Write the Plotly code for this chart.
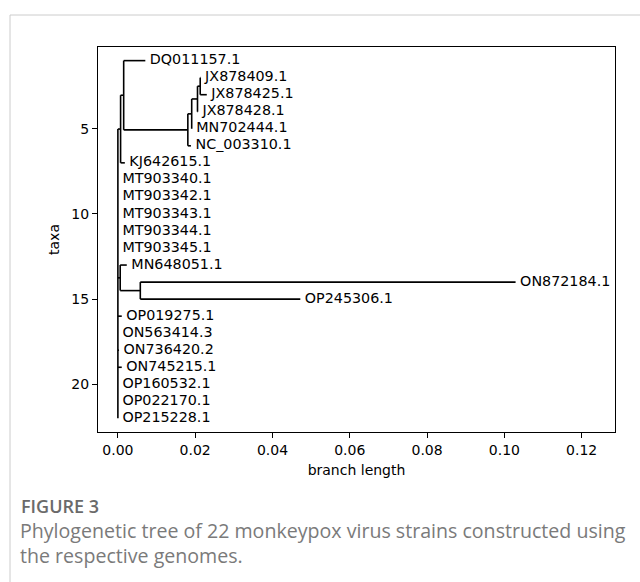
import plotly.graph_objects as go

# ---- data: tips in display order (top to bottom) ----
tips = ["DQ011157.1", "JX878409.1", "JX878425.1", "JX878428.1", "MN702444.1",
        "NC_003310.1", "KJ642615.1", "MT903340.1", "MT903342.1", "MT903343.1",
        "MT903344.1", "MT903345.1", "MN648051.1", "ON872184.1", "OP245306.1",
        "OP019275.1", "ON563414.3", "ON736420.2", "ON745215.1", "OP160532.1",
        "OP022170.1", "OP215228.1"]
tip_parent = ["A", "E", "E", "D", "C",
              "B", "F", "root", "root", "root",
              "root", "root", "I", "H", "H",
              "root", "root", "root", "root", "root",
              "root", "root"]
tip_length = [0.0056, 0.0001, 0.0017, 0.0001, 0.0000,
              0.0008, 0.0011, 0.0, 0.0, 0.0,
              0.0, 0.0, 0.0017, 0.0971, 0.0414,
              0.0010, 0.0, 0.0003, 0.0010, 0.0,
              0.0, 0.0]

internal = ["root", "F", "A", "B", "C", "D", "E", "I", "H"]
internal_parent = [None, "root", "F", "A", "B", "C", "D", "root", "I"]
internal_length = [0.0, 0.0007, 0.0008, 0.0166, 0.0010, 0.0015, 0.0007, 0.0006, 0.0052]

x_ticks = [0.00, 0.02, 0.04, 0.06, 0.08, 0.10, 0.12]
y_ticks = [5, 10, 15, 20]

# ---- build tree layout (depth = cumulative branch length, y = tip row) ----
parent = {}
length = {}
for n, p, l in zip(internal, internal_parent, internal_length):
    parent[n] = p
    length[n] = l
for n, p, l in zip(tips, tip_parent, tip_length):
    parent[n] = p
    length[n] = l

children = {n: [] for n in internal}
for n in internal[1:] + tips:
    children[parent[n]].append(n)

xpos = {}
def depth(n):
    if n in xpos:
        return xpos[n]
    p = parent[n]
    xpos[n] = length[n] + (depth(p) if p is not None else 0.0)
    return xpos[n]
for n in internal + tips:
    depth(n)

ypos = {t: i + 1 for i, t in enumerate(tips)}
def ycoord(n):
    if n in ypos:
        return ypos[n]
    ys = [ycoord(c) for c in children[n]]
    ypos[n] = (min(ys) + max(ys)) / 2
    return ypos[n]
ycoord("root")

lx, ly = [], []
for n in internal + tips:
    p = parent[n]
    px = xpos[p] if p is not None else 0.0
    lx += [px, xpos[n], None]
    ly += [ypos[n], ypos[n], None]
for n in internal:
    ys = [ypos[c] for c in children[n]]
    lx += [xpos[n], xpos[n], None]
    ly += [min(ys), max(ys), None]

xmax = max(xpos[t] for t in tips)

FONT = "DejaVu Sans"

fig = go.Figure()
fig.add_trace(go.Scatter(x=lx, y=ly, mode="lines",
                         line=dict(color="black", width=1.6),
                         hoverinfo="skip", showlegend=False))
fig.add_trace(go.Scatter(x=[xpos[t] for t in tips], y=[ypos[t] for t in tips],
                         mode="text", text=[" " + t for t in tips],
                         textposition="middle right",
                         textfont=dict(family=FONT, size=14.3, color="black"),
                         hoverinfo="skip", showlegend=False, cliponaxis=False))

axis_common = dict(showline=True, linecolor="black", linewidth=1, mirror=True,
                   ticks="outside", ticklen=5, tickcolor="black", tickwidth=1,
                   showgrid=False, zeroline=False,
                   tickfont=dict(family=FONT, size=14, color="black"))

fig.update_xaxes(range=[-0.05 * xmax, 1.25 * xmax], tickvals=x_ticks,
                 ticktext=["%.2f" % v for v in x_ticks],
                 title=dict(text="branch length", standoff=8,
                            font=dict(family=FONT, size=14, color="black")),
                 **axis_common)
fig.update_yaxes(range=[22.8, 0.2], tickvals=y_ticks,
                 title=dict(text="taxa", standoff=8,
                            font=dict(family=FONT, size=14, color="black")),
                 **axis_common)

L, R, T, B = 98, 25, 47, 150
W, H = 640, 582
pw, ph = W - L - R, H - T - B
def px2x(px):
    return (px - L) / pw
def py2y(py):
    return (H - B - py) / ph

shapes = [
    dict(type="line", xref="paper", yref="paper", x0=px2x(10), x1=px2x(640),
         y0=py2y(15), y1=py2y(15), line=dict(color="#cccccc", width=1)),
    dict(type="line", xref="paper", yref="paper", x0=px2x(10), x1=px2x(10),
         y0=py2y(15), y1=py2y(582), line=dict(color="#cccccc", width=1)),
]
annotations = [
    dict(xref="paper", yref="paper", x=px2x(19), y=py2y(506), xanchor="left",
         yanchor="middle", showarrow=False, text="FIGURE 3",
         font=dict(family="Open Sans", size=18, color="#6a6a6a", weight=600)),
    dict(xref="paper", yref="paper", x=px2x(18), y=py2y(543), xanchor="left",
         yanchor="middle", showarrow=False, align="left",
         text="Phylogenetic tree of 22 monkeypox virus strains constructed using<br>the respective genomes.",
         font=dict(family="Open Sans", size=19.6, color="#7a7a7a")),
]

fig.update_layout(width=W, height=H, margin=dict(l=L, r=R, t=T, b=B),
                  plot_bgcolor="white", paper_bgcolor="white",
                  shapes=shapes, annotations=annotations)

fig.write_html("out.html")
